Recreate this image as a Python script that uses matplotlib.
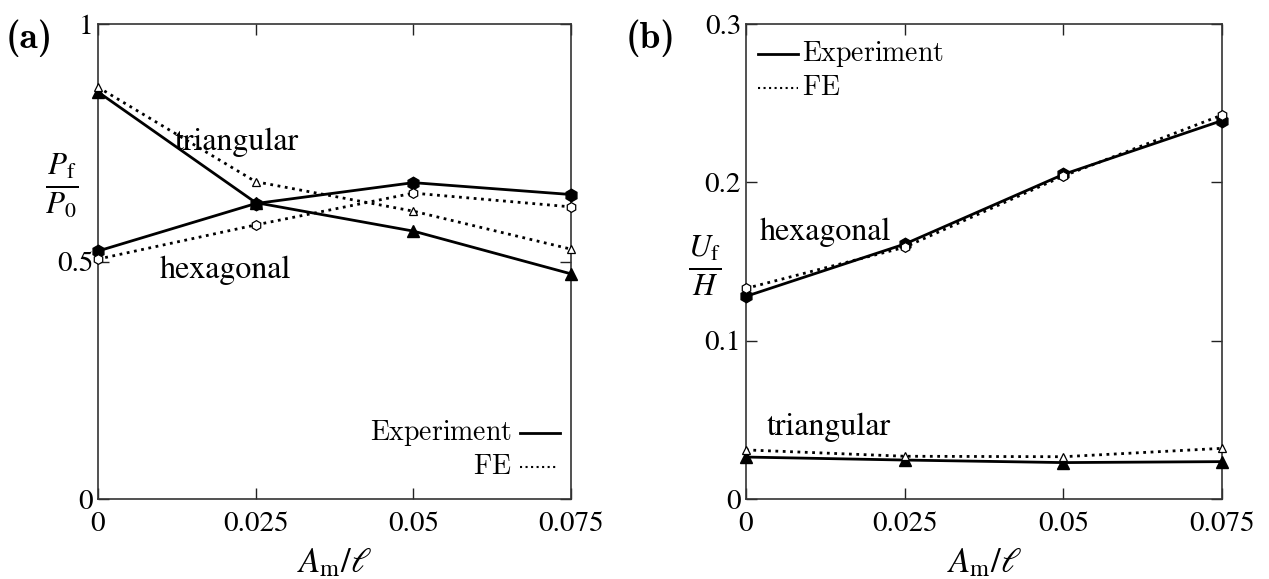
import numpy as np
import matplotlib.pyplot as plt

plt.rcParams['font.family'] = ['STIXGeneral', 'DejaVu Serif']
plt.rcParams['mathtext.fontset'] = 'stix'

# data
am = [0, 0.025, 0.05, 0.075]
xticks = [0, 0.025, 0.05, 0.075]
xticklabels = ['0', '0.025', '0.05', '0.075']

# (a) P_f / P_0
pa_hex_exp = [0.522, 0.622, 0.666, 0.641]
pa_hex_fe = [0.505, 0.577, 0.644, 0.615]
pa_tri_exp = [0.857, 0.624, 0.564, 0.474]
pa_tri_fe = [0.867, 0.668, 0.606, 0.526]

# (b) U_f / H
ub_hex_exp = [0.128, 0.161, 0.205, 0.239]
ub_hex_fe = [0.133, 0.159, 0.204, 0.2425]
ub_tri_exp = [0.0265, 0.0246, 0.023, 0.0236]
ub_tri_fe = [0.031, 0.027, 0.0267, 0.032]

fig = plt.figure(figsize=(12.69, 5.79), dpi=100)
ax1 = fig.add_axes([98/1269, 80/579, 473/1269, 475/579])
ax2 = fig.add_axes([746/1269, 80/579, 476/1269, 475/579])


def draw(ax, hex_exp, hex_fe, tri_exp, tri_fe):
    ax.plot(am, hex_exp, '-', color='black', lw=2, marker='h', ms=9,
            mfc='black', mec='black', clip_on=False, zorder=3)
    ax.plot(am, tri_exp, '-', color='black', lw=2, marker='^', ms=8,
            mfc='black', mec='black', clip_on=False, zorder=3)
    ax.plot(am, hex_fe, ':', color='black', lw=2, marker='h', ms=7,
            mfc='white', mec='black', mew=0.9, clip_on=False, zorder=4)
    ax.plot(am, tri_fe, ':', color='black', lw=2, marker='^', ms=6,
            mfc='white', mec='black', mew=0.9, clip_on=False, zorder=4)
    ax.set_xlim(0, 0.075)
    ax.set_xticks(xticks)
    ax.set_xticklabels(xticklabels)
    ax.tick_params(direction='in', top=True, right=True, labelsize=21,
                   length=8, width=1, colors='#222222', labelcolor='black')
    ax.tick_params(axis='x', pad=9)
    for s in ax.spines.values():
        s.set_color('#333333')
        s.set_linewidth(1.2)
    ax.set_xlabel(r'$A_\mathrm{m}/\ell$', fontsize=25, labelpad=7)


draw(ax1, pa_hex_exp, pa_hex_fe, pa_tri_exp, pa_tri_fe)
ax1.set_ylim(0, 1)
ax1.set_yticks([0, 0.5, 1])
ax1.set_yticklabels(['0', '0.5', '1'])
ax1.text(-0.076, 0.66, r'$\frac{P_\mathrm{f}}{P_0}$', transform=ax1.transAxes,
         fontsize=32, ha='center', va='center')
ax1.text(0.0122, 0.752, 'triangular', fontsize=23, va='center')
ax1.text(0.0098, 0.482, 'hexagonal', fontsize=23, va='center')
# legend (a)
ax1.text(0.0656, 0.139, r'$\mathrm{Experiment}$', math_fontfamily='cm',
         fontsize=20, ha='right', va='center')
ax1.plot([0.0669, 0.0733], [0.139, 0.139], '-', color='black', lw=2)
ax1.text(0.0656, 0.067, r'$\mathrm{FE}$', math_fontfamily='cm',
         fontsize=20, ha='right', va='center')
ax1.plot([0.0669, 0.0729], [0.067, 0.067], ':', color='black', lw=1.5)
fig.text(6/1269, 1 - 38/579, '(a)', family=['cmb10', 'DejaVu Serif'],
         fontsize=27, va='center')

draw(ax2, ub_hex_exp, ub_hex_fe, ub_tri_exp, ub_tri_fe)
ax2.set_ylim(0, 0.3)
ax2.set_yticks([0, 0.1, 0.2, 0.3])
ax2.set_yticklabels(['0', '0.1', '0.2', '0.3'])
ax2.text(-0.086, 0.49, r'$\frac{U_\mathrm{f}}{H}$', transform=ax2.transAxes,
         fontsize=32, ha='center', va='center')
ax2.text(0.0022, 0.1685, 'hexagonal', fontsize=23, va='center')
ax2.text(0.0033, 0.0455, 'triangular', fontsize=23, va='center')
# legend (b)
ax2.plot([0.0019, 0.0082], [0.281, 0.281], '-', color='black', lw=2)
ax2.text(0.0088, 0.281, r'$\mathrm{Experiment}$', math_fontfamily='cm',
         fontsize=20, ha='left', va='center')
ax2.plot([0.0019, 0.0082], [0.2596, 0.2596], ':', color='black', lw=1.5)
ax2.text(0.0088, 0.2596, r'$\mathrm{FE}$', math_fontfamily='cm',
         fontsize=20, ha='left', va='center')
fig.text(626/1269, 1 - 38/579, '(b)', family=['cmb10', 'DejaVu Serif'],
         fontsize=27, va='center')

fig.savefig('out.png', dpi=100)
